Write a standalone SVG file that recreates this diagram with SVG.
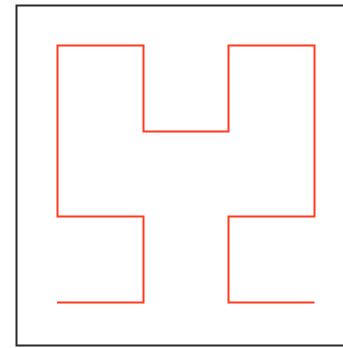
<svg xmlns="http://www.w3.org/2000/svg" width="343" height="348" viewBox="0 0 343 348">
<style>
.frame{fill:none;stroke:#2b2b2b;stroke-width:2}
.curve{fill:none;stroke:#ff3b1f;stroke-width:2;stroke-linejoin:miter}
</style>
<rect width="343" height="348" fill="#ffffff"/>
<rect class="frame" x="16.5" y="5.5" width="330" height="340"/>
<g id="curve">
<polyline class="curve" points="57,302.5 143.5,302.5 143.5,216.5 57.5,216.5 57.5,45.5 143.5,45.5 143.5,131.5 228.5,131.5 228.5,45.5 314.5,45.5 314.5,216.5 228.5,216.5 228.5,302.5 314.5,302.5"/>
</g>
</svg>
